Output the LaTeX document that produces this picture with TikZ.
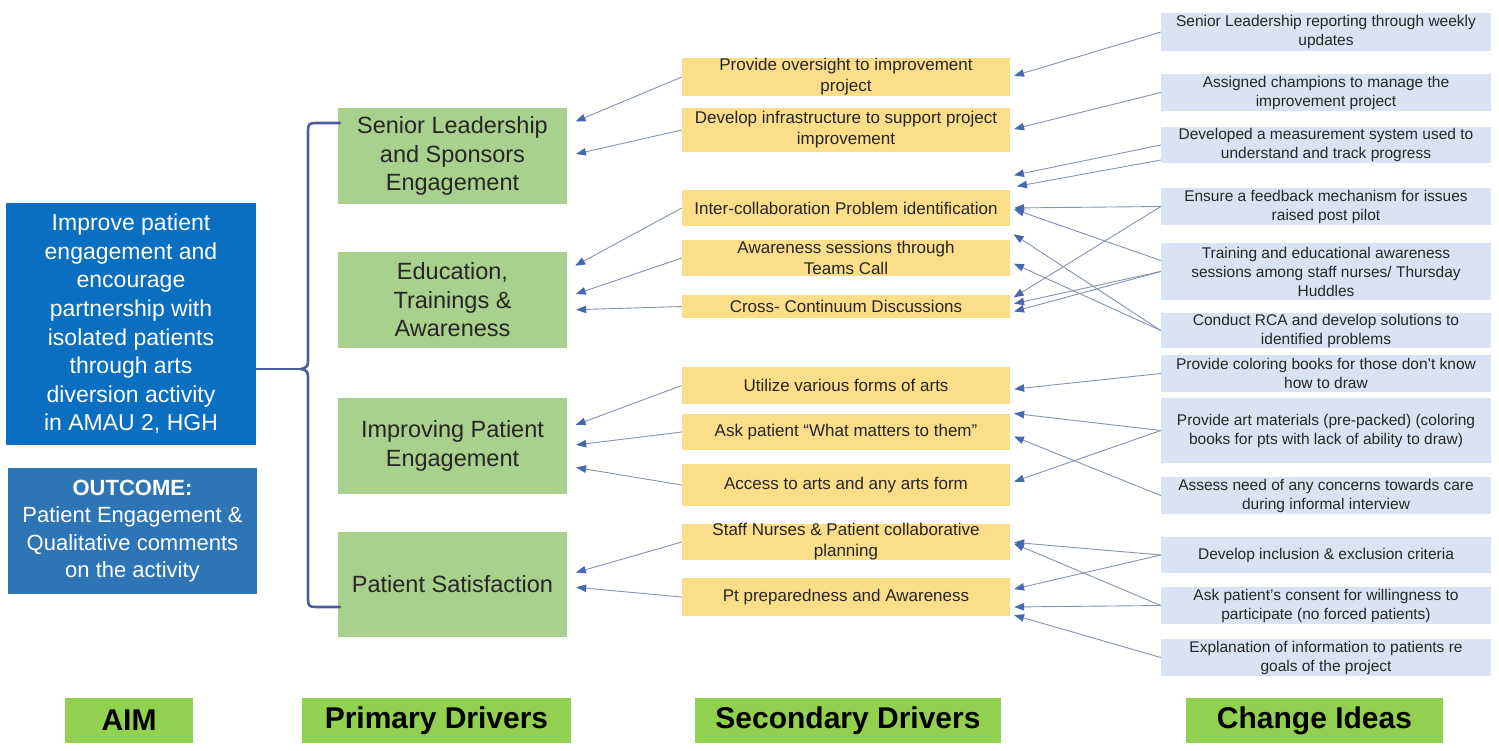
\documentclass[tikz,border=0pt]{standalone}
\usepackage{fontspec}
\usepackage{tikz}
\setmainfont{Liberation Sans}
\usetikzlibrary{arrows.meta}

\definecolor{aimblue}{HTML}{0A6FC0}
\definecolor{outblue}{HTML}{2E75B6}
\definecolor{primgreen}{HTML}{A9D18E}
\definecolor{secyellow}{HTML}{FCDD8A}
\definecolor{ideablue}{HTML}{DAE3F3}
\definecolor{headgreen}{HTML}{92D050}
\definecolor{linkgray}{HTML}{8393B0}
\definecolor{tipblue}{HTML}{4568B0}
\definecolor{bracecol}{HTML}{4A5E9E}
\definecolor{boxtext}{HTML}{262626}

\begin{document}
\begin{tikzpicture}[x=1pt, y=-1pt,
    box/.style={inner sep=0pt, align=center, text=boxtext},
    aimbox/.style={box, fill=aimblue, text=white, minimum width=250, font=\fontsize{23}{28.6}\selectfont},
    outbox/.style={box, fill=outblue, text=white, minimum width=249, minimum height=126, font=\fontsize{22}{27.4}\selectfont},
    primary/.style={box, fill=primgreen, minimum width=229, minimum height=96, font=\fontsize{23.5}{28.5}\selectfont},
    secondary/.style={box, fill=secyellow, minimum width=328, font=\fontsize{17}{21}\selectfont},
    idea/.style={box, fill=ideablue, minimum width=330, font=\fontsize{15.5}{19}\selectfont},
    heading/.style={box, fill=headgreen, text=black, minimum height=45, font=\fontsize{30}{34}\selectfont\bfseries},
    link/.style={draw=linkgray, line width=0.9pt, -{Triangle[length=10pt,width=7.5pt,color=tipblue]}},
    brace/.style={draw=bracecol, line width=2.6pt, line cap=round}
  ]
  \useasboundingbox (0,0) rectangle (1499,750);

  % aim and outcome
  \node[aimbox, minimum height=242] (aim) at (131,324) {Improve patient\\engagement and\\encourage\\partnership with\\isolated patients\\through arts\\diversion activity\\in AMAU 2, HGH};
  \node[outbox] (outcome) at (132.5,531) {\textbf{OUTCOME:}\\Patient Engagement \&\\Qualitative comments\\on the activity};

  % primary drivers
  \node[primary] (psenior) at (452.5,156) {Senior Leadership\\and Sponsors\\Engagement};
  \node[primary] (peduc) at (452.5,300) {Education,\\Trainings \&\\Awareness};
  \node[primary] (pimprove) at (452.5,446) {Improving Patient\\Engagement};
  \node[primary, minimum height=105] (psatis) at (452.5,584.5) {Patient Satisfaction};

  % secondary drivers
  \node[secondary, minimum height=38] (soversight) at (846,77) {Provide oversight to improvement\\project};
  \node[secondary, minimum height=44] (sinfra) at (846,130) {Develop infrastructure to support project\\improvement};
  \node[secondary, minimum height=36] (sinter) at (846,208) {Inter-collaboration Problem identification};
  \node[secondary, minimum height=36] (saware) at (846,258) {Awareness sessions through\\Teams Call};
  \node[secondary, minimum height=23] (scross) at (846,306.5) {Cross- Continuum Discussions};
  \node[secondary, minimum height=37] (sutil) at (846,385.5) {Utilize various forms of arts};
  \node[secondary, minimum height=36] (sask) at (846,432) {Ask patient ``What matters to them''};
  \node[secondary, minimum height=42] (saccess) at (846,485) {Access to arts and any arts form};
  \node[secondary, minimum height=36] (sstaff) at (846,542) {Staff Nurses \& Patient collaborative\\planning};
  \node[secondary, minimum height=38] (sprep) at (846,597) {Pt preparedness and Awareness};

  % change ideas
  \node[idea, minimum height=38] (cweekly) at (1326,32) {Senior Leadership reporting through weekly\\updates};
  \node[idea, minimum height=37] (cchamp) at (1326,92.5) {Assigned champions to manage the\\improvement project};
  \node[idea, minimum height=36] (cmeasure) at (1326,145) {Developed a measurement system used to\\understand and track progress};
  \node[idea, minimum height=37] (cfeedback) at (1326,206.5) {Ensure a feedback mechanism for issues\\raised post pilot};
  \node[idea, minimum height=57] (ctraining) at (1326,271.5) {Training and educational awareness\\sessions among staff nurses/ Thursday\\Huddles};
  \node[idea, minimum height=35] (crca) at (1326,330.5) {Conduct RCA and develop solutions to\\identified problems};
  \node[idea, minimum height=37] (ccolor) at (1326,373.5) {Provide coloring books for those don't know\\how to draw};
  \node[idea, minimum height=65] (cmaterial) at (1326,430.5) {Provide art materials (pre-packed) (coloring\\books for pts with lack of ability to draw)};
  \node[idea, minimum height=37] (cassess) at (1326,495.5) {Assess need of any concerns towards care\\during informal interview};
  \node[idea, minimum height=36] (cinclude) at (1326,555) {Develop inclusion \& exclusion criteria};
  \node[idea, minimum height=37] (cconsent) at (1326,605.5) {Ask patient's consent for willingness to\\participate (no forced patients)};
  \node[idea, minimum height=37] (cexplain) at (1326,657.5) {Explanation of information to patients re\\goals of the project};

  % column headings
  \node[heading, minimum width=128] (haim) at (129,720.5) {AIM};
  \node[heading, minimum width=269] (hprimary) at (436.5,720.5) {Primary Drivers};
  \node[heading, minimum width=306] (hsecondary) at (848,720.5) {Secondary Drivers};
  \node[heading, minimum width=257] (hchange) at (1314.5,720.5) {Change Ideas};

  % brace from the aim to the primary drivers
  \coordinate (btop) at (340,123);
  \coordinate (bbot) at (340,607);
  \coordinate (btip) at (301,369);
  \draw[brace] (btop) -- (320,123) .. controls (308,123) .. (308,135) -- (308,357)
    .. controls (308,367) .. (btip) .. controls (308,371) .. (308,381) -- (308,595)
    .. controls (308,607) .. (320,607) -- (bbot);
  \draw[brace] (aim.east |- btip) -- (btip);

  % secondary -> primary
  \begin{scope}[shorten >=9pt]
    \draw[link] (soversight.west) -- ([yshift=31pt]psenior.east);
    \draw[link] (sinfra.west) -- (psenior.east);
    \draw[link] (sinter.west) -- ([yshift=30pt]peduc.east);
    \draw[link] (saware.west) -- ([yshift=3pt]peduc.east);
    \draw[link] (scross.west) -- ([yshift=-10pt]peduc.east);
    \draw[link] (sutil.west) -- ([yshift=18pt]pimprove.east);
    \draw[link] (sask.west) -- (pimprove.east);
    \draw[link] (saccess.west) -- ([yshift=-20pt]pimprove.east);
    \draw[link] (sstaff.west) -- ([yshift=9.5pt]psatis.east);
    \draw[link] (sprep.west) -- ([yshift=-2pt]psatis.east);
  \end{scope}

  % change ideas -> secondary
  \coordinate (gapa) at (1010,176);
  \coordinate (gapb) at (1013,187);
  \begin{scope}[shorten >=4pt]
    \draw[link] (cweekly.west) -- (soversight.east);
    \draw[link] (cchamp.west) -- (sinfra.east);
    \draw[link] (cmeasure.west) -- (gapa);
    \draw[link] ([yshift=-15pt]cmeasure.west) -- (gapb);
    \draw[link] (cfeedback.west) -- (sinter.east);
    \draw[link] (cfeedback.west) -- ([yshift=7pt]scross.east);
    \draw[link] ([yshift=11pt]ctraining.west) -- (sinter.east);
    \draw[link] (ctraining.west) -- ([yshift=2pt]scross.east);
    \draw[link] (ctraining.west) -- ([yshift=-6pt]scross.east);
    \draw[link] (crca.west) -- ([yshift=-24pt]sinter.east);
    \draw[link] (crca.west) -- ([yshift=-4pt]saware.east);
    \draw[link] (ccolor.west) -- ([yshift=-4pt]sutil.east);
    \draw[link] (cmaterial.west) -- ([yshift=19pt]sask.east);
    \draw[link] (cmaterial.west) -- ([yshift=2pt]saccess.east);
    \draw[link] (cassess.west) -- ([yshift=-3pt]sask.east);
    \draw[link] (cinclude.west) -- (sstaff.east);
    \draw[link] (cinclude.west) -- ([yshift=7pt]sprep.east);
    \draw[link] (cconsent.west) -- (sstaff.east);
    \draw[link] (cconsent.west) -- ([yshift=-10pt]sprep.east);
    \draw[link] (cexplain.west) -- ([yshift=-17pt]sprep.east);
  \end{scope}
\end{tikzpicture}
\end{document}
